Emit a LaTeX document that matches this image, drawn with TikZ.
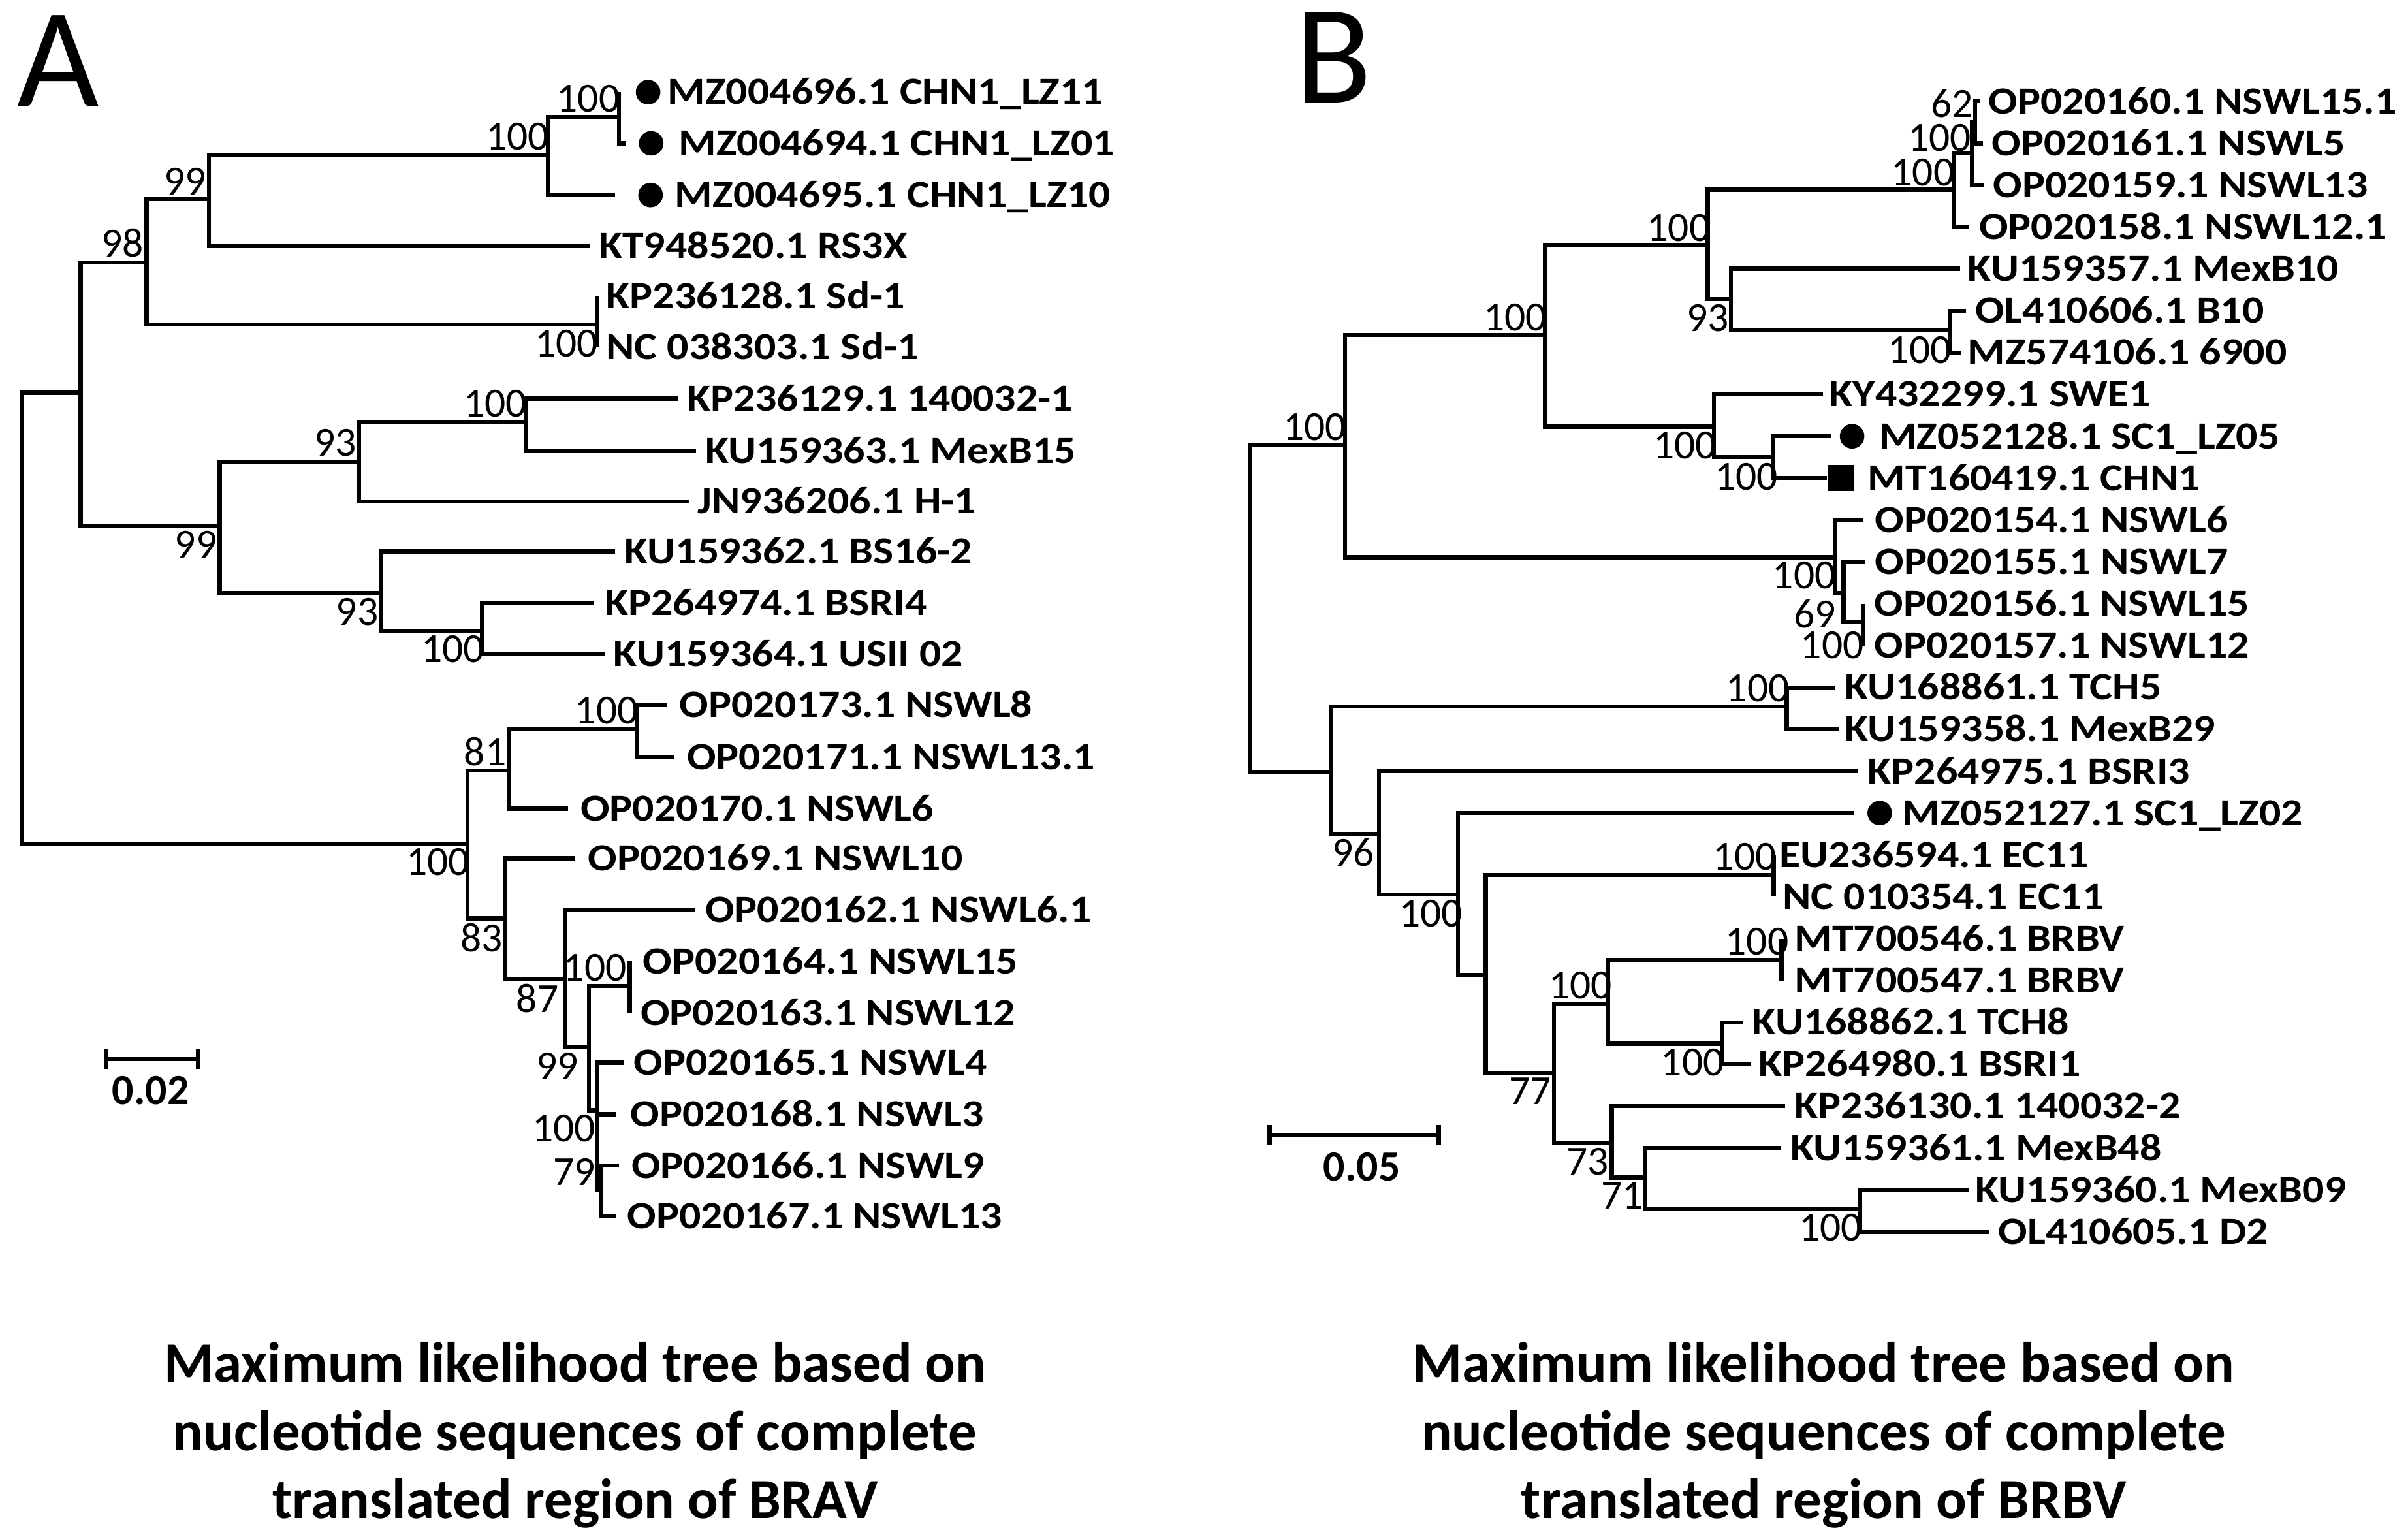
\documentclass[tikz,border=0pt]{standalone}
\usepackage{fontspec}
\setmainfont{Carlito}
\newfontfamily\leaffont{Carlito}[FakeStretch=1.12]
\begin{document}
\begin{tikzpicture}[x=0.5pt,y=-0.5pt,
  br/.style={line width=1.35pt},
  leaf/.style={anchor=base west,inner sep=0pt,font=\leaffont\bfseries\fontsize{12.5}{15}\selectfont},
  bsa/.style={anchor=south east,inner sep=0pt,font=\fontsize{13.5}{16}\selectfont},
  bsb/.style={anchor=north east,inner sep=0pt,font=\fontsize{13.5}{16}\selectfont},
  dotm/.style={circle,fill=black,inner sep=0pt,minimum size=8pt},
  sqm/.style={rectangle,fill=black,inner sep=0pt,minimum size=8.5pt,anchor=west},
  scl/.style={anchor=base,inner sep=0pt,font=\bfseries\fontsize{14}{16}\selectfont},
  captxt/.style={anchor=base,inner sep=0pt,font=\bfseries\fontsize{18.5}{22}\selectfont},
  big/.style={anchor=base west,inner sep=0pt,font=\fontsize{46}{50}\selectfont}]
\useasboundingbox (0,0) rectangle (1568,1002);
\fill[white] (0,0) rectangle (1568,1002);

% ---------- panel letters
\node[big] (lblA) at (11,69) {A};
\node[big] (lblB) at (843,67) {B};

% ---------- tree A internal nodes
\coordinate (rA) at (14.3,402);
\coordinate (a1) at (52.5,255.8);
\coordinate (a2) at (95.4,170.9);
\coordinate (a3) at (136,129.7);
\coordinate (a4) at (356.8,100.7);
\coordinate (a4b) at (403,76.3);
\coordinate (asd) at (388.8,211.4);
\coordinate (a5) at (143.1,342.3);
\coordinate (a6) at (233.7,300.5);
\coordinate (a7) at (342.5,275);
\coordinate (a8) at (248,386.2);
\coordinate (a9) at (313.9,411);
\coordinate (b1) at (304.3,549.2);
\coordinate (b2) at (331.5,501.7);
\coordinate (b3) at (414.5,474.8);
\coordinate (b4) at (329.1,598);
\coordinate (b5) at (368,637.7);
\coordinate (b6) at (383.6,682);
\coordinate (b7) at (410,642);
\coordinate (b8) at (389,723);
\coordinate (b9) at (391.5,775);

% ---------- tree A tips
\coordinate (tA1) at (403,60);
\coordinate (tA2) at (407.8,93.3);
\coordinate (tA3) at (400.7,126.8);
\coordinate (tA4) at (384,160);
\coordinate (tA5) at (388.8,193);
\coordinate (tA6) at (388.8,226);
\coordinate (tA7) at (441.2,259.5);
\coordinate (tA8) at (453.2,293.5);
\coordinate (tA9) at (448.4,326.5);
\coordinate (tA10) at (400.7,359);
\coordinate (tA11) at (386.4,392.6);
\coordinate (tA12) at (393.5,425.9);
\coordinate (tA13) at (434,459.2);
\coordinate (tA14) at (438.8,493);
\coordinate (tA15) at (369.7,526.5);
\coordinate (tA16) at (374.4,558.8);
\coordinate (tA17) at (452.2,592.4);
\coordinate (tA18) at (410,626);
\coordinate (tA19) at (410,659.5);
\coordinate (tA20) at (406,692);
\coordinate (tA21) at (401,725.5);
\coordinate (tA22) at (403,759);
\coordinate (tA23) at (401,792);

\foreach \p/\c in {rA/a1,rA/b1,a1/a2,a1/a5,a2/a3,a2/asd,a3/a4,a3/tA4,a4/a4b,a4/tA3,
  a4b/tA1,a4b/tA2,asd/tA5,asd/tA6,a5/a6,a5/a8,a6/a7,a6/tA9,a7/tA7,a7/tA8,a8/tA10,a8/a9,
  a9/tA11,a9/tA12,b1/b2,b1/b4,b2/b3,b2/tA15,b3/tA13,b3/tA14,b4/tA16,b4/b5,b5/tA17,b5/b6,
  b6/b7,b6/b8,b7/tA18,b7/tA19,b8/tA20,b8/tA21,b8/b9,b9/tA22,b9/tA23}
  \draw[br] (\p) |- (\c);

% ---------- tree A leaf labels
\node[dotm] (dA1) at (422,60) {};
\node[dotm] (dA2) at (424,93.3) {};
\node[dotm] (dA3) at (423.6,127) {};
\node[leaf] (nA1) at (434.5,68) {MZ004696.1 CHN1\_LZ11};
\node[leaf] (nA2) at (441.6,101.3) {MZ004694.1 CHN1\_LZ01};
\node[leaf] (nA3) at (439.2,135) {MZ004695.1 CHN1\_LZ10};
\node[leaf] (nA4) at (389.6,168) {KT948520.1 RS3X};
\node[leaf] (nA5) at (394.4,201) {KP236128.1 Sd-1};
\node[leaf] (nA6) at (394.4,234) {NC 038303.1 Sd-1};
\node[leaf] (nA7) at (446.9,267.5) {KP236129.1 140032-1};
\node[leaf] (nA8) at (458.8,301.5) {KU159363.1 MexB15};
\node[leaf] (nA9) at (454,334.5) {JN936206.1 H-1};
\node[leaf] (nA10) at (406.3,367) {KU159362.1 BS16-2};
\node[leaf] (nA11) at (393.5,400.6) {KP264974.1 BSRI4};
\node[leaf] (nA12) at (399.2,433.9) {KU159364.1 USII 02};
\node[leaf] (nA13) at (442,467.2) {OP020173.1 NSWL8};
\node[leaf] (nA14) at (446.9,501) {OP020171.1 NSWL13.1};
\node[leaf] (nA15) at (377.7,534.5) {OP020170.1 NSWL6};
\node[leaf] (nA16) at (382.5,566.8) {OP020169.1 NSWL10};
\node[leaf] (nA17) at (458.8,600.4) {OP020162.1 NSWL6.1};
\node[leaf] (nA18) at (418.3,634) {OP020164.1 NSWL15};
\node[leaf] (nA19) at (416.7,667.5) {OP020163.1 NSWL12};
\node[leaf] (nA20) at (412.3,700) {OP020165.1 NSWL4};
\node[leaf] (nA21) at (410.3,733.5) {OP020168.1 NSWL3};
\node[leaf] (nA22) at (410.9,767) {OP020166.1 NSWL9};
\node[leaf] (nA23) at (408.1,800) {OP020167.1 NSWL13};

% ---------- tree A bootstrap values
\node[bsa] (vA2) at (94,168) {98};
\node[bsa] (vA3) at (134.6,127.5) {99};
\node[bsa] (vA4) at (357.8,98) {100};
\node[bsa] (vA4b) at (404,73.5) {100};
\node[bsb] (vAsd) at (389.8,214.5) {100};
\node[bsb] (vA5) at (141.7,345.5) {99};
\node[bsa] (vA6) at (232.3,297.6) {93};
\node[bsa] (vA7) at (343.5,272) {100};
\node[bsb] (vA8) at (246.7,389) {93};
\node[bsb] (vA9) at (315.8,413.5) {100};
\node[bsb] (vB1) at (306,552) {100};
\node[bsa] (vB2) at (330,499) {81};
\node[bsa] (vB3) at (416,472) {100};
\node[bsb] (vB4) at (327.7,601) {83};
\node[bsb] (vB5) at (364,640.5) {87};
\node[bsb] (vB6) at (377,685) {99};
\node[bsa] (vB7) at (408.3,639.5) {100};
\node[bsb] (vB8) at (388,725.6) {100};
\node[bsa] (vB9) at (388,772.4) {79};

% ---------- scale bar A
\coordinate (sA1) at (69.2,689.5);
\coordinate (sA2) at (128.8,689.5);
\draw[br] (sA1) -- (sA2);
\draw[br] ([yshift=3.2pt]sA1) -- ([yshift=-3.2pt]sA1);
\draw[br] ([yshift=3.2pt]sA2) -- ([yshift=-3.2pt]sA2);
\node[scl] (sclA) at (98,719.3) {0.02};

% ---------- tree B internal nodes
\coordinate (rB) at (814.1,396);
\coordinate (c1) at (875.7,289.8);
\coordinate (c2) at (1006,218.2);
\coordinate (c3) at (1112,159.4);
\coordinate (c4) at (1272,123.5);
\coordinate (c5) at (1284,100);
\coordinate (c5b) at (1286,79.5);
\coordinate (c6) at (1127,194.8);
\coordinate (c6b) at (1270,215);
\coordinate (c7) at (1116,277.8);
\coordinate (c8) at (1154.7,297.6);
\coordinate (c9) at (1194.8,362.8);
\coordinate (c10) at (1200.4,386);
\coordinate (c11) at (1213,405);
\coordinate (d1) at (866.7,502.4);
\coordinate (d2) at (1163.5,459.9);
\coordinate (d3) at (897.8,542.8);
\coordinate (d4) at (949.4,582.5);
\coordinate (d5) at (967.5,634.9);
\coordinate (d6) at (1155,569.7);
\coordinate (d7) at (1012,698.7);
\coordinate (d8) at (1047,653.4);
\coordinate (d9) at (1160,625);
\coordinate (d8b) at (1121.2,679.6);
\coordinate (d10) at (1049.5,744.1);
\coordinate (d11) at (1071.1,766.8);
\coordinate (d12) at (1211.3,787.3);

% ---------- tree B tips
\coordinate (tB1) at (1289.3,66);
\coordinate (tB2) at (1291.4,93.3);
\coordinate (tB3) at (1292.1,120.5);
\coordinate (tB4) at (1282,147.8);
\coordinate (tB5) at (1276.4,175);
\coordinate (tB6) at (1280,202.3);
\coordinate (tB7) at (1277,229.6);
\coordinate (tB8) at (1187.2,256.8);
\coordinate (tB9) at (1192.3,284.1);
\coordinate (tB10) at (1189.8,311.3);
\coordinate (tB11) at (1213.6,338.6);
\coordinate (tB12) at (1214.6,365.9);
\coordinate (tB13) at (1213,393.1);
\coordinate (tB14) at (1213,420.4);
\coordinate (tB15) at (1194.8,447.6);
\coordinate (tB16) at (1197.3,474.9);
\coordinate (tB17) at (1209.8,502.2);
\coordinate (tB18) at (1207.3,529.4);
\coordinate (tB19) at (1155,556.7);
\coordinate (tB20) at (1155,583.9);
\coordinate (tB21) at (1160,611.2);
\coordinate (tB22) at (1160,638.5);
\coordinate (tB23) at (1134.7,665.7);
\coordinate (tB24) at (1139.7,693);
\coordinate (tB25) at (1162.2,720.2);
\coordinate (tB26) at (1159.7,747.5);
\coordinate (tB27) at (1282.4,774.8);
\coordinate (tB28) at (1294.9,802);

\foreach \p/\c in {rB/c1,rB/d1,c1/c2,c1/c9,c2/c3,c2/c7,c3/c4,c3/c6,c4/c5,c4/tB4,
  c5/c5b,c5/tB3,c5b/tB1,c5b/tB2,c6/tB5,c6/c6b,c6b/tB6,c6b/tB7,c7/tB8,c7/c8,c8/tB9,c8/tB10,
  c9/tB11,c9/c10,c10/tB12,c10/c11,c11/tB13,c11/tB14,d1/d2,d1/d3,d2/tB15,d2/tB16,
  d3/tB17,d3/d4,d4/tB18,d4/d5,d5/d6,d5/d7,d6/tB19,d6/tB20,d7/d8,d7/d10,d8/d9,d8/d8b,
  d9/tB21,d9/tB22,d8b/tB23,d8b/tB24,d10/tB25,d10/d11,d11/tB26,d11/d12,d12/tB27,d12/tB28}
  \draw[br] (\p) |- (\c);

% ---------- tree B leaf labels
\node[dotm] (dB9) at (1206,284.1) {};
\node[sqm] (qB10) at (1190,311.3) {};
\node[dotm] (dB18) at (1224,529.4) {};
\node[leaf] (nB1) at (1294.5,74) {OP020160.1 NSWL15.1};
\node[leaf] (nB2) at (1296.7,101.3) {OP020161.1 NSWL5};
\node[leaf] (nB3) at (1297.4,128.5) {OP020159.1 NSWL13};
\node[leaf] (nB4) at (1288.3,155.8) {OP020158.1 NSWL12.1};
\node[leaf] (nB5) at (1281,183) {KU159357.1 MexB10};
\node[leaf] (nB6) at (1285.9,210.3) {OL410606.1 B10};
\node[leaf] (nB7) at (1280.9,237.6) {MZ574106.1 6900};
\node[leaf] (nB8) at (1190.8,264.8) {KY432299.1 SWE1};
\node[leaf] (nB9) at (1223.3,292.1) {MZ052128.1 SC1\_LZ05};
\node[leaf] (nB10) at (1215.8,319.3) {MT160419.1 CHN1};
\node[leaf] (nB11) at (1220.5,346.6) {OP020154.1 NSWL6};
\node[leaf] (nB12) at (1220.5,373.9) {OP020155.1 NSWL7};
\node[leaf] (nB13) at (1220.1,401.1) {OP020156.1 NSWL15};
\node[leaf] (nB14) at (1220.1,428.4) {OP020157.1 NSWL12};
\node[leaf] (nB15) at (1200.8,455.6) {KU168861.1 TCH5};
\node[leaf] (nB16) at (1200.8,482.9) {KU159358.1 MexB29};
\node[leaf] (nB17) at (1215.8,510.2) {KP264975.1 BSRI3};
\node[leaf] (nB18) at (1238.3,537.4) {MZ052127.1 SC1\_LZ02};
\node[leaf] (nB19) at (1158.2,564.7) {EU236594.1 EC11};
\node[leaf] (nB20) at (1160.5,591.9) {NC 010354.1 EC11};
\node[leaf] (nB21) at (1168.2,619.2) {MT700546.1 BRBV};
\node[leaf] (nB22) at (1168.2,646.5) {MT700547.1 BRBV};
\node[leaf] (nB23) at (1140.7,673.7) {KU168862.1 TCH8};
\node[leaf] (nB24) at (1144.7,701) {KP264980.1 BSRI1};
\node[leaf] (nB25) at (1168.2,728.2) {KP236130.1 140032-2};
\node[leaf] (nB26) at (1165.7,755.5) {KU159361.1 MexB48};
\node[leaf] (nB27) at (1285.9,782.8) {KU159360.1 MexB09};
\node[leaf] (nB28) at (1300.9,810) {OL410605.1 D2};

% ---------- tree B bootstrap values
\node[bsa] (wC1) at (877,287.5) {100};
\node[bsa] (wC2) at (1007.5,216) {100};
\node[bsa] (wC3) at (1114,157.5) {100};
\node[bsa] (wC4) at (1273,121.5) {100};
\node[bsa] (wC5) at (1284,99) {100};
\node[bsa] (wC5b) at (1285,77) {62};
\node[bsb] (wC6) at (1126,198) {93};
\node[bsb] (wC6b) at (1271,218.5) {100};
\node[bsb] (wC7) at (1118,280.6) {100};
\node[bsb] (wC8) at (1158,301) {100};
\node[bsb] (wC9) at (1195.7,365.5) {100};
\node[bsb] (wC10) at (1195.7,390) {69};
\node[bsb] (wC11) at (1214,411) {100};
\node[bsa] (wD2) at (1165.5,457.5) {100};
\node[bsb] (wD3) at (895.3,545.5) {96};
\node[bsb] (wD4) at (952.8,585.5) {100};
\node[bsa] (wD6) at (1157,567.2) {100};
\node[bsa] (wD9) at (1165,622.5) {100};
\node[bsb] (wD7) at (1010.5,701.5) {77};
\node[bsa] (wD8) at (1050,651) {100};
\node[bsb] (wD8b) at (1123,682.5) {100};
\node[bsb] (wD10) at (1048,747) {73};
\node[bsb] (wD11) at (1070.5,769.5) {71};
\node[bsb] (wD12) at (1213,790) {100};

% ---------- scale bar B
\coordinate (sB1) at (826.7,739.1);
\coordinate (sB2) at (936.8,739.1);
\draw[br] (sB1) -- (sB2);
\draw[br] ([yshift=3.2pt]sB1) -- ([yshift=-3.2pt]sB1);
\draw[br] ([yshift=3.2pt]sB2) -- ([yshift=-3.2pt]sB2);
\node[scl] (sclB) at (886.7,768.9) {0.05};

% ---------- captions
\node[captxt] (capA1) at (374.5,900) {Maximum likelihood tree based on};
\node[captxt] (capA2) at (374.5,944.3) {nucleotide sequences of complete};
\node[captxt] (capA3) at (374.5,988.6) {translated region of BRAV};
\node[captxt] (capB1) at (1187.5,900) {Maximum likelihood tree based on};
\node[captxt] (capB2) at (1187.5,944.3) {nucleotide sequences of complete};
\node[captxt] (capB3) at (1187.5,988.6) {translated region of BRBV};
\end{tikzpicture}
\end{document}
